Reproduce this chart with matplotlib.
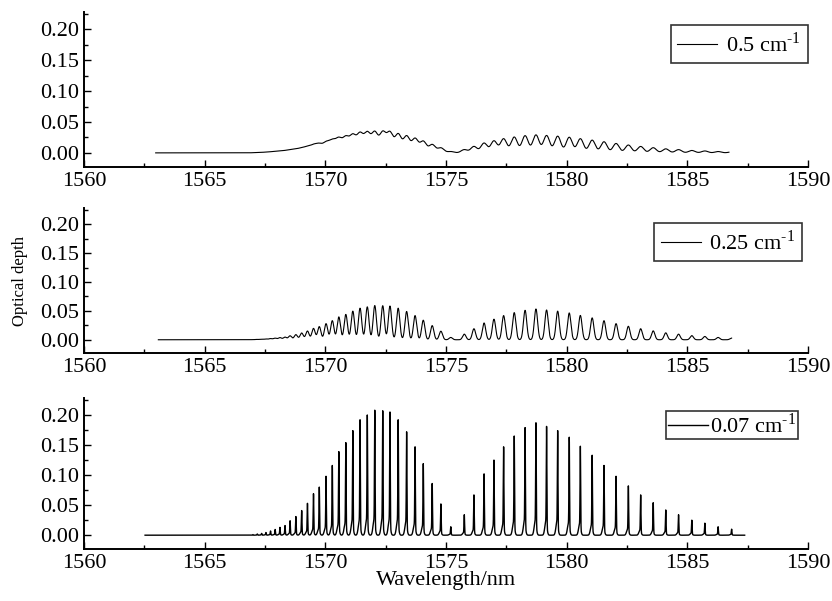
import numpy as np
import matplotlib.pyplot as plt
from matplotlib.ticker import MultipleLocator

plt.rcParams['font.family'] = ['Liberation Serif', 'DejaVu Serif']
plt.rcParams['mathtext.fontset'] = 'custom'
plt.rcParams['mathtext.rm'] = 'Liberation Serif'

# Line centres (nm) and peak optical depth at 0.07 cm-1
r_branch_nm = [1567.00, 1567.18, 1567.36, 1567.54, 1567.73, 1567.92, 1568.12, 1568.33,
               1568.54, 1568.78, 1569.02, 1569.26, 1569.51, 1569.75, 1570.03, 1570.29,
               1570.56, 1570.85, 1571.14, 1571.44, 1571.74, 1572.05, 1572.38, 1572.68,
               1573.02, 1573.37, 1573.72, 1574.06, 1574.43, 1574.79, 1575.20]
r_branch_depth = [0.001, 0.002, 0.003, 0.0045, 0.007, 0.0095, 0.013, 0.016,
                  0.024, 0.031, 0.041, 0.053, 0.069, 0.080, 0.098, 0.116,
                  0.139, 0.154, 0.174, 0.192, 0.200, 0.208, 0.207, 0.205,
                  0.192, 0.172, 0.147, 0.119, 0.086, 0.052, 0.014]
p_branch_nm = [1575.76, 1576.16, 1576.58, 1576.99, 1577.39, 1577.83, 1578.28, 1578.73,
               1579.17, 1579.63, 1580.11, 1580.57, 1581.06, 1581.55, 1582.05, 1582.56,
               1583.07, 1583.59, 1584.11, 1584.64, 1585.19, 1585.73, 1586.28, 1586.84]
p_branch_depth = [0.034, 0.067, 0.102, 0.125, 0.147, 0.165, 0.179, 0.187,
                  0.181, 0.174, 0.163, 0.148, 0.133, 0.116, 0.098, 0.082,
                  0.067, 0.054, 0.042, 0.034, 0.025, 0.020, 0.014, 0.010]

# panels: label, wavelength span, ratio of peak depth to the 0.07 cm-1 one
labels = ['0.5 cm$^{\\text{-1}}$', '0.25 cm$^{\\text{-1}}$', '0.07 cm$^{\\text{-1}}$']
spans = [(1562.97, 1586.73), (1563.08, 1586.84), (1562.53, 1587.38)]
gains = [0.155, 0.285, 1.0]
widths = [0.13, 0.068, 0.012]   # gaussian sigma of the line shape, nm

centres = np.array(r_branch_nm + p_branch_nm)
depths = np.array(r_branch_depth + p_branch_depth)


def spectrum(wl, gain, sigma, pedestal=False):
    y = np.zeros_like(wl)
    for c, d in zip(centres, depths):
        core = gain * d
        if pedestal:
            base = 0.12 * d * np.exp(-(wl - c + 0.03) ** 2 / (2 * 0.045 ** 2))
            core -= 0.12 * d * np.exp(-0.03 ** 2 / (2 * 0.045 ** 2))
            y += base
        y += core * np.exp(-(wl - c) ** 2 / (2 * sigma ** 2))
    return y


fig = plt.figure(figsize=(8.32, 6.01), dpi=100)
rects = [[0.101, 0.722, 0.870, 0.258],
         [0.101, 0.4126, 0.870, 0.241],
         [0.101, 0.0865, 0.870, 0.251]]
legend_anchor = [(1.0, 0.916), (0.992, 0.897), (0.986, 0.914)]
legend_pad = [(0.3, 0.4), (0.3, 0.4), (0.08, 0.1)]

for i in range(3):
    ax = fig.add_axes(rects[i])
    wl = np.arange(spans[i][0], spans[i][1], 0.002)
    ax.plot(wl, spectrum(wl, gains[i], widths[i], pedestal=(i == 2)),
            color='black', lw=0.8 if i < 2 else 1.0, label=labels[i])

    ax.set_xlim(1560, 1590)
    ax.set_ylim(-0.023, 0.228)
    ax.xaxis.set_major_locator(MultipleLocator(5))
    ax.xaxis.set_minor_locator(MultipleLocator(2.5))
    ax.yaxis.set_major_locator(MultipleLocator(0.05))
    ax.yaxis.set_minor_locator(MultipleLocator(0.025))
    ax.yaxis.set_major_formatter(plt.FormatStrFormatter('%.2f'))
    for side in ['top', 'right']:
        ax.spines[side].set_visible(False)
    for side in ['left', 'bottom']:
        ax.spines[side].set_linewidth(1.4)
    ax.tick_params(which='both', direction='in', labelsize=16, width=1.0)
    ax.tick_params(which='major', length=5)
    ax.tick_params(which='minor', length=3)

    leg = ax.legend(loc='upper right', bbox_to_anchor=legend_anchor[i],
                    borderaxespad=0, fontsize=16, frameon=True, fancybox=False,
                    handlelength=1.8, handletextpad=legend_pad[i][1],
                    borderpad=legend_pad[i][0])
    leg.get_frame().set_edgecolor('black')
    leg.get_frame().set_linewidth(1.2)

    if i == 1:
        ax.set_ylabel('Optical depth', fontsize=12)
        ax.yaxis.set_label_coords(-0.077, 0.5)
    if i == 2:
        ax.set_xlabel('Wavelength/nm', fontsize=16, labelpad=-1)

fig.savefig('out.png', dpi=100)
